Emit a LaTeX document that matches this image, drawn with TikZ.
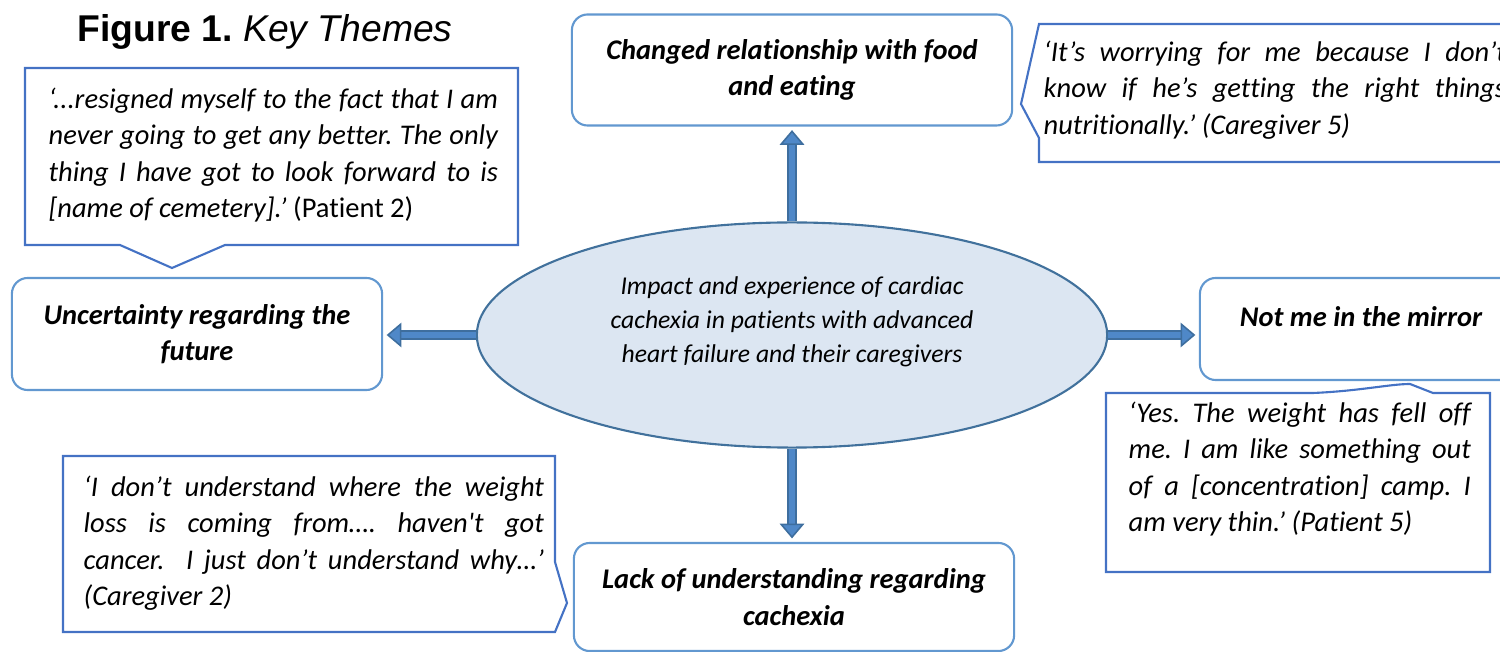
\documentclass[tikz,border=0pt]{standalone}
\usepackage{fontspec}
\setmainfont{Carlito}[Ligatures=NoCommon]
\newfontfamily\titlefont{Liberation Sans}
\usetikzlibrary{arrows.meta,shapes.geometric}
\frenchspacing
\definecolor{quoteblue}{RGB}{68,114,196}
\definecolor{themeblue}{RGB}{98,152,208}
\definecolor{arrowfill}{RGB}{79,136,200}
\definecolor{arrowline}{RGB}{62,110,158}
\definecolor{centrefill}{RGB}{220,230,242}
\definecolor{centreline}{RGB}{65,113,156}
\tikzset{x=0.01cm,y=-0.01cm,
  theme/.style={draw=themeblue, line width=0.6pt, rounded corners=4.5pt,
    fill=white, align=center, inner sep=0pt,
    font=\fontsize{8.1}{10.4}\selectfont\bfseries\itshape},
  callout/.style={draw=quoteblue, line width=0.6pt, line join=miter},
  quotetext/.style={text width=#1, align=justify, inner sep=0pt,
    anchor=north west, font=\fontsize{8.1}{10.4}\selectfont\itshape},
  fat arrow/.style={draw=arrowline, line width=0.45pt, double=arrowfill,
    double distance=1.95pt, shorten >=1pt,
    -{Triangle[length=4.2pt,width=7pt,fill=arrowfill]}},
}
\begin{document}
\begin{tikzpicture}
  \useasboundingbox (0,0) rectangle (1500,652);

  \node[font=\titlefont\fontsize{10.6}{12}\selectfont] (title) at (265,32)
    {\textbf{Figure 1.} \textit{Key Themes}};

  % quote outlines
  \draw[callout] (25,68) -- (518,68) -- (518,245) -- (225,245) -- (172,268)
    -- (120,245) -- (25,245) -- cycle;
  \draw[callout] (1039,24) -- (1530,24) -- (1530,162) -- (1039,162)
    -- (1039,138) -- (1021,104) -- cycle;
  \draw[callout] (1106,393) -- (1313,393) .. controls (1360,391) and (1390,384) .. (1410,384)
    -- (1433,393) -- (1490,393) -- (1490,572) -- (1106,572) -- cycle;
  \draw[callout] (63,456) -- (555,456) -- (555,562) -- (567,603) -- (555,632)
    -- (63,632) -- cycle;

  \node[quotetext=4.49cm] (patient2) at (48,87)
    {‘...resigned myself to the fact that I am\linebreak{}
     never going to get any better. The only\linebreak{}
     thing I have got to look forward to is\linebreak{}
     [name of cemetery].’ \upshape(Patient 2)};
  \node[quotetext=4.62cm] (carer5) at (1043,40)
    {‘It’s worrying for me because I don’t\linebreak{}
     know if he’s getting the right things\linebreak{}
     nutritionally.’ (Caregiver 5)};
  \node[quotetext=3.42cm] (patient5) at (1128,401)
    {‘Yes. The weight has fell off\linebreak{}
     me. I am like something out\linebreak{}
     of a [concentration] camp. I\linebreak{}
     am very thin.’ (Patient 5)};
  \node[quotetext=4.60cm] (carer2) at (83,475)
    {‘I don’t understand where the weight\linebreak{}
     loss is coming from…. haven\textquotesingle t got\linebreak{}
     cancer.\ \ I just don’t understand why…’\linebreak{}
     (Caregiver 2)};

  % themes
  \node[ellipse, draw=centreline, line width=0.6pt, fill=centrefill,
    minimum width=6.3cm, minimum height=2.25cm] (centre) at (792,335) {};
  \node[align=center, font=\fontsize{7.3}{9.7}\selectfont\itshape] (centretext)
    at (792,322) {Impact and experience of cardiac\\cachexia in patients with advanced\\
    heart failure and their caregivers};

  \node[theme, minimum width=4.4cm, minimum height=1.11cm] (food) at (792,70)
    {Changed relationship with food\\and eating};
  \node[theme, minimum width=3.7cm, minimum height=1.12cm] (future) at (197,334)
    {Uncertainty regarding the\\future};
  \node[theme, minimum width=3.22cm, minimum height=1.02cm, text height=6pt,
    text depth=7.2pt] (mirror) at (1361,329) {Not me in the mirror};
  \node[theme, minimum width=4.4cm, minimum height=1.08cm] (lack) at (794,597)
    {Lack of understanding regarding\\cachexia};

  \draw[fat arrow] (centre.north) -- (food.south);
  \draw[fat arrow] (centre.west) -- (centre.west -| future.east);
  \draw[fat arrow] (centre.east) -- (centre.east -| mirror.west);
  \draw[fat arrow] (centre.south) -- (centre.south |- lack.north);
\end{tikzpicture}
\end{document}
